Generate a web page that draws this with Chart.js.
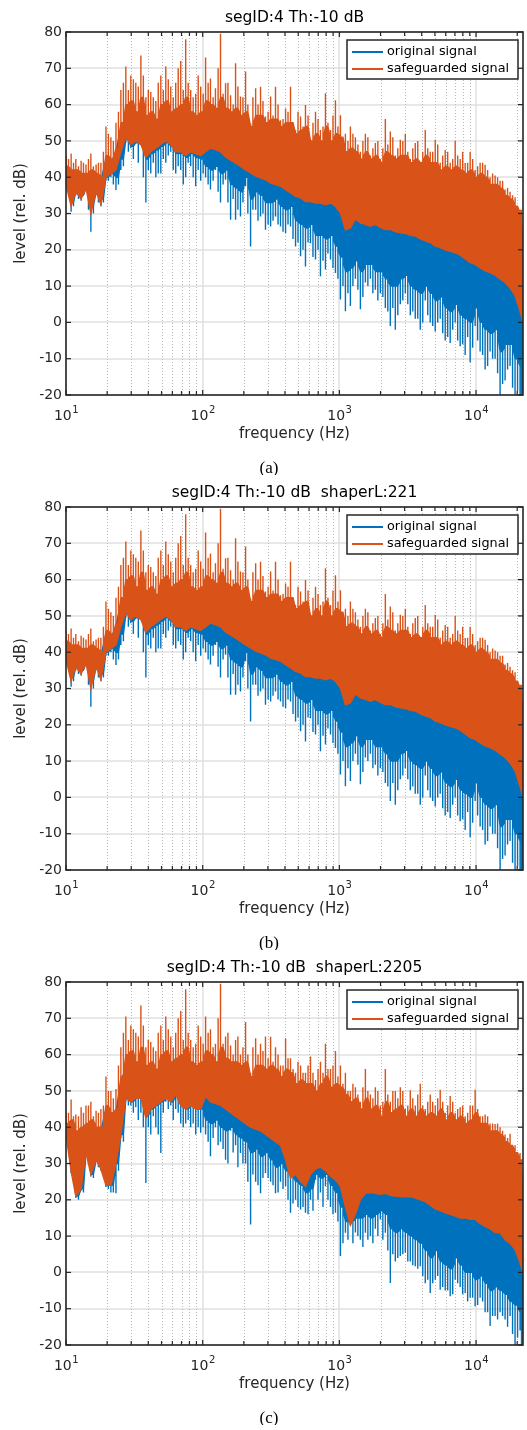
<!DOCTYPE html>
<html>
<head>
<meta charset="utf-8">
<script src="https://cdn.jsdelivr.net/npm/chart.js"></script>
<style>
body{margin:0;background:#fff;width:527px;height:1430px;overflow:hidden;position:relative}
canvas{position:absolute;left:0}
</style>
</head>
<body>
<canvas id="pa" width="527" height="475" style="top:0"></canvas>
<canvas id="pb" width="527" height="475" style="top:475px"></canvas>
<canvas id="pc" width="527" height="475" style="top:950px"></canvas>
<script>
// frequency bins (Hz) shared by all traces, plus the bins lying between them
const freqHz = [10, 10.9, 11.8, 12.9, 14.0, 15.2, 16.6, 18.0, 19.6, 21.3, 23.2, 25.2, 27.4, 29.8, 32.4, 35.3,
  38.4, 41.7, 45.4, 49.4, 53.7, 58.4, 63.5, 69.1, 75.1, 81.7, 88.9, 96.7, 105, 114, 124, 135, 147, 160, 174,
  189, 206, 224, 244, 265, 288, 314, 341, 371, 404, 439, 478, 520, 565, 615, 669, 727, 791, 861, 936, 1018,
  1107, 1204, 1310, 1425, 1550, 1686, 1833, 1994, 2169, 2359, 2566, 2791, 3036, 3302, 3591, 3906, 4249, 4621,
  5027, 5467, 5947, 6468, 7035, 7652, 8323, 9053, 9846, 10710, 11649, 12670, 13781, 14990, 16305, 17734,
  19290, 20981, 22050];
const freqMidHz = [10.43, 11.35, 12.34, 13.42, 14.6, 15.87, 17.27, 18.78, 20.43, 22.2, 24.2, 26.3, 28.6, 31.1,
  33.8, 36.8, 40.0, 43.5, 47.3, 51.5, 56.0, 60.9, 66.2, 72.1, 78.3, 85.2, 92.7, 100.8, 109.6, 119.2, 129.7,
  141, 153, 167, 181, 197, 214, 233, 254, 276, 301, 327, 356, 387, 421, 458, 498, 542, 590, 641, 698, 759,
  825, 898, 976, 1062, 1155, 1256, 1366, 1486, 1616, 1758, 1912, 2080, 2262, 2460, 2676, 2911, 3166, 3444,
  3745, 4074, 4431, 4819, 5243, 5702, 6202, 6746, 7337, 7980, 8680, 9441, 10269, 11169, 12149, 13214, 14372,
  15633, 17004, 18495, 20118, 21500];

// plots (a) and (b), dB
const safePeakA = [46, 46.5, 45, 44.5, 43.5, 46.5, 43.5, 44, 54, 51, 55, 64, 70.5, 68, 66, 73.5, 62, 63.5, 61, 68,
  70.5, 65, 66, 72, 78, 64, 63, 65, 73, 67.2, 64.5, 79.5, 65.9, 62.6, 71.4, 62.2, 69.1, 54.8, 64.5, 64.9, 56.7,
  62.2, 64.9, 55.7, 58.9, 64.9, 53, 56.7, 59.9, 50.3, 58, 53, 63.1, 53, 61.2, 57.1, 52, 54, 51, 47, 52, 46,
  49.4, 45, 56, 52.6, 46, 50.3, 52, 45, 49.4, 44, 53, 47, 50.3, 44, 47.5, 44, 50, 45, 43.9, 47, 42, 44, 43.4,
  40, 40.5, 39, 36.6, 36, 34.5, 31, 24];
const safePeakMidA = [45, 44, 43, 44, 45, 43, 44, 47, 52, 50, 58,
  66, 64, 67, 65, 68, 64, 62, 66, 64, 67, 62, 70, 64, 66, 62, 68,
  63, 66, 62, 70, 63, 66, 60, 65, 62, 60, 62, 60, 61,
  58, 57, 60, 56, 58, 55, 58, 54, 57, 55, 56, 54, 55, 57,
  54, 51, 50, 52, 49, 50, 51, 48, 50, 48, 49, 51, 48, 50, 47, 48, 50, 47,
  48, 47, 49, 46, 47, 45, 46, 47, 44, 45, 43, 44, 42, 41, 40, 39, 37, 35, 32, 31];
const safeTopA = [43, 42, 42, 41, 41, 42, 41, 40, 46, 45, 48, 55,
  60, 61, 58, 62, 57, 58, 56, 60, 61, 58, 59, 60, 62, 58, 57, 58,
  61, 60, 59, 62, 59, 58, 59, 57, 58, 54, 57, 57, 55,
  56, 56, 54, 55, 55, 52, 53, 54, 50, 52, 50, 54, 50, 52,
  51, 47, 48, 47, 45, 47, 45, 46, 44, 47, 46, 45, 46, 46, 44, 45, 44, 46,
  44, 44, 42, 43, 42, 43, 42, 41, 42, 40, 41, 40, 38, 38, 37, 35, 34, 32, 30, 20];
const safeBotA = [38, 32, 36, 34, 37, 30, 36, 32.5, 40, 41, 42, 47, 51, 49, 50, 49, 45.5, 47, 48, 49, 50, 49, 47,
  47, 46, 47, 46.5, 46, 47, 48, 47.6, 47, 45.6, 44.7, 43.9, 43, 42, 41.2, 40.3, 39.8, 39.3, 38.4, 38, 37.5,
  36.6, 35.7, 34.7, 34.3, 33.3, 33.3, 32.9, 32.9, 32.4, 32.9, 32, 30.1, 25.5, 26, 28.5, 27.4, 27, 26.5, 27,
  26.2, 25.6, 25.6, 25, 24.7, 24.5, 24, 23.8, 23, 22.5, 22, 21, 20.6, 20, 19.6, 19.2, 18.5, 17.5, 16.5, 16,
  15, 14.2, 13.7, 13, 12, 11, 9.5, 7.3, 3, 0];
const origTopA = [42, 41, 41, 40, 40, 41, 40, 39, 45, 44, 47, 54,
  56, 56, 55, 56, 54, 55, 53, 55, 55, 54, 54, 54, 53, 53, 52, 52,
  54, 53, 52, 52, 51, 50, 49, 49, 48, 47, 47, 46, 46, 45, 45, 44, 43, 43, 42, 42, 41,
  41, 40, 40, 40, 39, 39, 38, 36, 35, 35, 34, 34, 34, 33, 33, 33, 32, 32, 32, 31, 31, 30, 30, 29, 29, 28, 28,
  27, 27, 26, 26, 25, 24, 24, 23, 22, 21, 20, 19, 18, 16, 14, 10, 6];
const origBotA = [38, 33, 36, 35, 37, 32, 36, 34, 40, 41, 40, 45,
  50.5, 48.5, 49.5, 49, 45, 46.5, 47.5, 48.5, 49.5, 48.5, 46.5, 46.5, 45.5, 46.5, 45.5, 45,
  43, 42, 43, 41, 42, 38, 37, 36, 40, 34, 36, 35, 33,
  33, 34, 32, 31, 32, 28, 27, 26, 27, 24, 24, 23, 24, 21,
  18, 14, 15, 17, 14, 16, 16, 14, 14, 12, 10, 10, 12, 13, 10, 9, 8, 10,
  8, 6, 7, 4, 3, 5, 2, 1, 0, 4, 0, -2, -3, -2, -8, -6, -6, -10, -12, -14];
const origDipA = [37, 30.5, 35, 33.5, 36.5, 25, 35, 32, 39, 40, 36.5, 42, 49.5, 48, 49.5, 49, 33, 41, 40, 41, 44,
  47, 41, 42, 40, 43, 37.5, 39, 40, 36.6, 42, 33, 39.3, 28.3, 28.3, 29.2, 37.5, 20.9, 31, 29.2, 25.5, 26.4,
  29.2, 26.4, 24.6, 26.4, 20.9, 18.2, 15.4, 21.8, 17.3, 12.7, 14.6, 17.3, 13.6, 6.3, 3.1, 4.5, 12, 3.6, 11, 12,
  9, 8, 4, -1, -2, 5, 8, 2, 1, -2, 6, 0, -2.5, 1, -5, -5.7, 0, -6.6, -9, -11, -1, -8, -13, -8, -10, -20, -16,
  -12, -20, -21, -21];
const origDipMidA = [36, 32, 34, 35, 31, 30, 33, 33, 39, 38, 38,
  43, 47, 45, 44, 40, 42, 44, 41, 45, 46, 42, 43, 38, 44, 40, 42,
  41, 38, 39, 36, 38, 33, 34, 31, 33, 30, 31, 28, 30,
  27, 28, 27, 25, 27, 23, 22, 20, 22, 18, 20, 17, 19, 15,
  12, 10, 8, 10, 9, 7, 10, 8, 6, 7, 3, 4, 2, 6, 5, 3, 1, 0,
  2, -1, 0, -3, -4, -2, -5, -6, -4, -7, -5, -9, -12, -10, -14, -17, -13, -18, -19, -21];

// plot (c), dB
const safePeakC = [44, 47.6, 43.5, 45.5, 46, 47, 44.5, 45, 54, 50, 50.5, 62, 70.5, 68, 66, 73.5, 62, 63.5, 61, 68,
  70.5, 65, 66, 72, 78, 64, 63, 65, 70.5, 67, 63, 79.5, 65, 62.5, 64, 60, 69, 55, 64.5, 63, 65, 64.9, 62, 57,
  64.5, 59, 55, 57, 55, 59.5, 53, 58, 63, 56, 61, 57, 55, 50, 51, 47, 56, 49, 51, 46, 56, 47, 50, 51, 45,
  50.2, 46, 52, 45, 49, 46, 50.3, 44, 48.6, 44, 45.5, 43, 46, 50.3, 43, 43.5, 41, 40.9, 40, 38, 38.2, 35, 32.9,
  24];
const safePeakMidC = [44, 43, 43, 44, 46, 43, 44, 46, 50, 48, 57,
  66, 64, 67, 65, 68, 64, 62, 66, 64, 67, 62, 70, 64, 66, 62, 68,
  63, 66, 62, 70, 63, 66, 60, 65, 62, 60, 62, 60, 61,
  59, 58, 60, 57, 59, 56, 58, 55, 57, 55, 56, 55, 56, 57,
  54, 52, 50, 52, 49, 51, 50, 48, 50, 47, 49, 50, 48, 50, 46, 48, 49, 46,
  47, 47, 48, 47, 46, 47, 45, 46, 44, 46, 45, 43, 43, 41, 41, 39, 37, 35, 33, 31];
const safeTopC = [41, 42, 39, 40, 41, 42, 40, 40, 46, 44, 45, 54,
  60, 61, 58, 62, 57, 58, 56, 60, 61, 58, 59, 60, 62, 58, 57, 58,
  61, 60, 58, 62, 59, 58, 58, 57, 58, 54, 57, 57, 56,
  57, 56, 54, 56, 55, 52, 53, 52, 52, 50, 52, 54, 51, 52,
  51, 49, 47, 48, 45, 48, 45, 46, 43, 47, 44, 45, 46, 43, 45, 43, 45, 43,
  44, 43, 45, 42, 44, 42, 43, 41, 42, 44, 41, 41, 39, 39, 38, 36, 35, 33, 31, 20];
const safeBotC = [38, 27.8, 21, 23, 33, 27, 31, 28.5, 24, 24, 30, 38, 48, 47, 48, 48, 42.5, 45, 46, 47, 48, 47,
  49, 46, 45, 46, 45, 45, 48.5, 47, 46.5, 46, 45, 44, 43, 42, 41, 40, 39.5, 39, 38, 37, 36, 35, 31, 26, 27, 25,
  23.7, 27, 28.5, 29, 28, 26.5, 25.5, 23.7, 18, 13, 16, 20, 21.8, 22, 21.8, 21.5, 21.8, 21.2, 21, 20.9, 20.8,
  20.9, 20.5, 20, 19.5, 18.5, 17.5, 17, 16.4, 16, 15.5, 15, 15, 14.6, 14.6, 13.5, 12.7, 12, 11, 10.9, 9, 8,
  6.3, 2.6, 0];
const origTopC = [40, 41, 38, 39, 40, 41, 39, 39, 45, 43, 44, 53,
  56, 56, 55, 56, 54, 55, 53, 55, 55, 54, 54, 54, 53, 53, 52, 52,
  54, 53, 52, 52, 51, 50, 49, 49, 48, 47, 47, 46, 46, 45, 45, 44, 43, 43, 42, 42, 41,
  41, 40, 40, 40, 39, 39, 38, 36, 35, 35, 34, 34, 34, 33, 33, 33, 32, 32, 32, 31, 31, 30, 30, 29, 29, 28, 28,
  27, 27, 26, 26, 25, 24, 24, 23, 22, 21, 20, 19, 18, 16, 14, 10, 6];
const origBotC = [38, 28, 21, 23, 33, 27, 31, 29, 24.5, 24, 30, 38,
  48, 47, 48, 48, 43, 45, 46, 47, 48, 47, 49, 46, 45, 46, 45, 45,
  42, 41, 42, 40, 39, 40, 38, 37, 36, 33, 34, 32, 33,
  31, 29, 30, 28, 27, 25, 24, 22, 23, 27, 26, 27, 24, 22,
  18, 14, 14, 15, 15, 16, 15, 16, 17, 16, 12, 11, 12, 11, 10, 9, 8, 6,
  4, 6, 3, 2, 1, 4, 2, 0, 0, -2, -1, -3, -5, -4, -5, -6, -8, -9, -11, -13];
const origDipC = [37.5, 27.3, 20.5, 22.5, 32.5, 26.4, 30.5, 28, 23.5, 22, 21.8, 37, 47, 46, 45.5, 44, 24.6, 38,
  40, 32.9, 47, 46, 45, 41, 41, 40, 38, 38.5, 38, 32, 40, 36, 31, 39, 35, 32.9, 30, 13.2, 25, 21.8, 27.4, 25,
  21.8, 25, 23.7, 16.4, 20, 17.3, 16.4, 20, 25.5, 22, 23.7, 18, 16.4, 4.5, 10.9, 13, 11, 9, 10.9, 10, 12, 14.6,
  10.9, -2.9, 3, 4.5, 5.4, 3, 1.7, 1.7, -3, -5.7, -2, -4.8, -5, -6.6, -2, -4, -5.7, -7, -9.3, -7, -11, -14.8,
  -12, -11, -13, -12, -20.3, -16, -20.3];
const origDipMidC = [35, 27, 20, 22, 30, 26, 29, 27, 23, 22, 28,
  36, 46, 44, 42, 40, 40, 43, 38, 44, 45, 42, 44, 40, 42, 41, 40,
  40, 36, 37, 35, 34, 30, 33, 29, 30, 25, 27, 24, 26,
  26, 24, 22, 23, 20, 19, 18, 18, 16, 17, 20, 18, 20, 16,
  14, 8, 9, 8, 10, 7, 9, 8, 10, 9, 6, 5, 4, 5, 3, 2, 1, -1,
  -2, -3, -1, -4, -5, -6, -3, -6, -8, -7, -9, -8, -11, -12, -13, -12, -15, -17, -18, -20];

const titles = ['segID:4 Th:-10 dB', 'segID:4 Th:-10 dB  shaperL:221', 'segID:4 Th:-10 dB  shaperL:2205'];
const captions = ['(a)', '(b)', '(c)'];
const seriesNames = ['original signal', 'safeguarded signal'];
const yTicks = [-20, -10, 0, 10, 20, 30, 40, 50, 60, 70, 80];
const decades = [10, 100, 1000, 10000];

const BLUE = '#0072BD', ORANGE = '#D95319';
const SANS = '"DejaVu Sans", sans-serif';

const xTicks = [];
decades.forEach(d => { for (let m = 1; m <= 9; m++) if (d * m <= 22050) xTicks.push(d * m); });

function pts(f, v) { return f.map((x, i) => ({x: x, y: v[i]})); }
// solid edge with a thin spike at every bin and every in-between bin
function needles(base, tip, tipMid) {
  const out = [];
  freqHz.forEach((x, i) => {
    out.push({x: x, y: base[i]}, {x: x, y: tip[i]}, {x: x, y: base[i]});
    if (i < freqMidHz.length) {
      const m = freqMidHz[i];
      out.push({x: m, y: base[i]}, {x: m, y: tipMid[i]}, {x: m, y: base[i]});
    }
  });
  return out;
}
function seg(ctx, x1, y1, x2, y2) { ctx.beginPath(); ctx.moveTo(x1, y1); ctx.lineTo(x2, y2); ctx.stroke(); }

const decor = {
  id: 'decor',
  beforeDatasetsDraw(chart) {
    const {ctx, chartArea: a, scales: {x, y}} = chart;
    ctx.save();
    ctx.lineWidth = 1.5;
    ctx.strokeStyle = '#e1e1e1';
    yTicks.forEach(v => { const py = Math.round(y.getPixelForValue(v)); seg(ctx, a.left, py, a.right, py); });
    xTicks.forEach(v => {
      const px = Math.round(x.getPixelForValue(v));
      if (decades.includes(v)) { ctx.setLineDash([]); ctx.lineWidth = 1.5; ctx.strokeStyle = '#e1e1e1'; seg(ctx, px, a.top, px, a.bottom); }
      else { ctx.setLineDash([1, 2]); ctx.lineWidth = 1; ctx.strokeStyle = '#b8b8b8'; seg(ctx, px + 0.5, a.top, px + 0.5, a.bottom); }
    });
    ctx.restore();
  },
  afterDatasetsDraw(chart, args, o) {
    const {ctx, chartArea: a, scales: {x, y}} = chart;
    ctx.save();
    ctx.strokeStyle = '#262626';
    ctx.lineWidth = 1.2;
    xTicks.forEach(v => {
      const px = x.getPixelForValue(v), len = decades.includes(v) ? 5 : 4;
      seg(ctx, px, a.bottom, px, a.bottom - len);
      seg(ctx, px, a.top, px, a.top + len);
    });
    yTicks.forEach(v => {
      const py = y.getPixelForValue(v);
      seg(ctx, a.left, py, a.left + 5, py);
      seg(ctx, a.right, py, a.right - 5, py);
    });
    ctx.lineWidth = 1.6;
    ctx.strokeRect(a.left, a.top, a.right - a.left, a.bottom - a.top);

    // tick labels
    ctx.fillStyle = '#262626';
    ctx.font = '14px ' + SANS;
    ctx.textAlign = 'right';
    ctx.textBaseline = 'middle';
    yTicks.forEach(v => ctx.fillText(String(v), a.left - 4, y.getPixelForValue(v)));
    ctx.textAlign = 'left';
    ctx.textBaseline = 'alphabetic';
    decades.forEach(d => {
      const px = x.getPixelForValue(d);
      const e = String(Math.round(Math.log10(d)));
      ctx.font = '14px ' + SANS; const w1 = ctx.measureText('10').width;
      ctx.font = '10px ' + SANS; const w2 = ctx.measureText(e).width;
      const x0 = px - (w1 + w2) / 2;
      ctx.font = '14px ' + SANS; ctx.fillText('10', x0, a.bottom + 25);
      ctx.font = '10px ' + SANS; ctx.fillText(e, x0 + w1 + 0.5, a.bottom + 18);
    });

    // axis titles
    ctx.textAlign = 'center';
    ctx.textBaseline = 'middle';
    ctx.font = '15px ' + SANS;
    ctx.fillText('frequency (Hz)', (a.left + a.right) / 2, a.bottom + 39.5);
    ctx.save();
    ctx.translate(21, (a.top + a.bottom) / 2);
    ctx.rotate(-Math.PI / 2);
    ctx.fillText('level (rel. dB)', 0, 0);
    ctx.restore();

    // title and caption
    ctx.fillStyle = '#000';
    ctx.textBaseline = 'alphabetic';
    ctx.font = '15.5px ' + SANS;
    ctx.fillText(o.title, (a.left + a.right) / 2, 22);
    ctx.textBaseline = 'middle';
    ctx.font = '17px "Liberation Serif", serif';
    ctx.fillText(o.caption, 269, 469);

    // legend
    const lx = a.right - 176, ly = a.top + 8, lw = 171, lh = 39;
    ctx.fillStyle = '#fff';
    ctx.fillRect(lx, ly, lw, lh);
    ctx.strokeStyle = '#262626';
    ctx.lineWidth = 1.5;
    ctx.strokeRect(lx, ly, lw, lh);
    ctx.lineWidth = 2;
    [BLUE, ORANGE].forEach((c, i) => {
      const ry = ly + 12 + i * 17;
      ctx.strokeStyle = c;
      seg(ctx, lx + 5, ry, lx + 36, ry);
      ctx.fillStyle = '#000';
      ctx.font = '12.8px ' + SANS;
      ctx.textAlign = 'left';
      ctx.fillText(seriesNames[i], lx + 40, ry);
    });
    ctx.restore();
  }
};

function makeChart(id, k, s) {
  new Chart(document.getElementById(id), {
    type: 'line',
    data: {
      datasets: [
        {label: seriesNames[0], data: needles(s.origBot, s.origDip, s.origDipMid), borderColor: BLUE, backgroundColor: BLUE, fill: '+1', order: 2},
        {label: seriesNames[0] + ' top', data: pts(freqHz, s.origTop), borderColor: BLUE, backgroundColor: BLUE, fill: false, order: 2},
        {label: seriesNames[1], data: needles(s.safeTop, s.safePeak, s.safePeakMid), borderColor: ORANGE, backgroundColor: ORANGE, fill: '+1', order: 1},
        {label: seriesNames[1] + ' bottom', data: pts(freqHz, s.safeBot), borderColor: ORANGE, backgroundColor: ORANGE, fill: false, order: 1}
      ]
    },
    options: {
      responsive: false,
      animation: false,
      events: [],
      layout: {padding: {left: 66, top: 32, right: 4, bottom: 80}},
      elements: {point: {radius: 0}, line: {borderWidth: 1.4, tension: 0}},
      scales: {
        x: {type: 'logarithmic', min: 10, max: 22050, display: false},
        y: {type: 'linear', min: -20, max: 80, display: false}
      },
      plugins: {
        legend: {display: false},
        tooltip: {enabled: false},
        decor: {title: titles[k], caption: captions[k]}
      }
    },
    plugins: [decor]
  });
}

const setA = {safePeak: safePeakA, safePeakMid: safePeakMidA, safeTop: safeTopA, safeBot: safeBotA,
  origTop: origTopA, origBot: origBotA, origDip: origDipA, origDipMid: origDipMidA};
const setC = {safePeak: safePeakC, safePeakMid: safePeakMidC, safeTop: safeTopC, safeBot: safeBotC,
  origTop: origTopC, origBot: origBotC, origDip: origDipC, origDipMid: origDipMidC};
makeChart('pa', 0, setA);
makeChart('pb', 1, setA);
makeChart('pc', 2, setC);
</script>
</body>
</html>
